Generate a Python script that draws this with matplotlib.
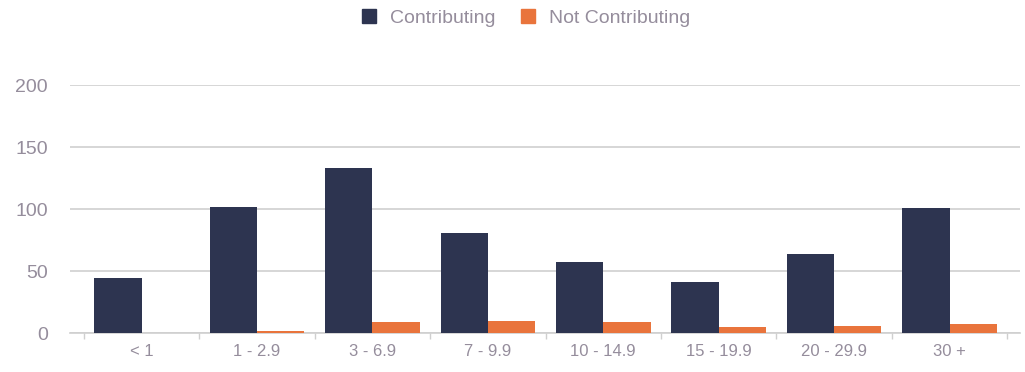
import matplotlib
matplotlib.use("Agg")
import matplotlib.pyplot as plt
import numpy as np
from matplotlib.patches import Patch

categories = ["< 1", "1 - 2.9", "3 - 6.9", "7 - 9.9", "10 - 14.9", "15 - 19.9", "20 - 29.9", "30 +"]
contributing = [44, 102, 133, 81, 57, 41, 64, 101]
not_contributing = [0, 2, 9, 10, 8.5, 5, 6, 7]
y_ticks = [0, 50, 100, 150, 200]

dark = "#2d3450"
orange = "#e9743c"
text_col = "#958d9c"
grid_col = "#cfcfcf"

plt.rcParams["font.family"] = ["Liberation Sans", "DejaVu Sans"]

fig = plt.figure(figsize=(10.25, 3.72), dpi=100)
ax = fig.add_axes([70 / 1025, 39 / 372, 950 / 1025, 248 / 372])

x = np.arange(len(categories))
w = 0.41
ax.bar(x - w / 2, contributing, width=w, color=dark, zorder=3)
ax.bar(x + w / 2, not_contributing, width=w, color=orange, zorder=3)

ax.set_xlim(-0.62, 7.61)
ax.set_ylim(0, 200)
ax.set_yticks(y_ticks)
ax.set_yticklabels([str(v) for v in y_ticks])
ax.yaxis.grid(True, color=grid_col, linewidth=1.2, zorder=0)
ax.tick_params(axis="y", length=0, labelsize=14, labelcolor=text_col, pad=16)

ax.set_xticks(x)
ax.set_xticklabels(categories)
ax.set_xticks(np.arange(-0.5, len(categories), 1.0), minor=True)
ax.tick_params(axis="x", which="major", length=0, labelsize=12, labelcolor=text_col, pad=8)
ax.tick_params(axis="x", which="minor", length=4, color=grid_col, width=1)

for s in ["top", "right", "left"]:
    ax.spines[s].set_visible(False)
ax.spines["bottom"].set_color(grid_col)
ax.spines["bottom"].set_linewidth(1.2)

handles = [Patch(color=dark, label="Contributing"), Patch(color=orange, label="Not Contributing")]
fig.legend(handles=handles, loc="center", bbox_to_anchor=(0.513, 1 - 18 / 372), ncol=2,
           frameon=False, fontsize=14, labelcolor=text_col, handlelength=0.75, handleheight=0.75,
           handletextpad=0.7, columnspacing=1.3)

fig.savefig("out.png", dpi=100, facecolor="white")
